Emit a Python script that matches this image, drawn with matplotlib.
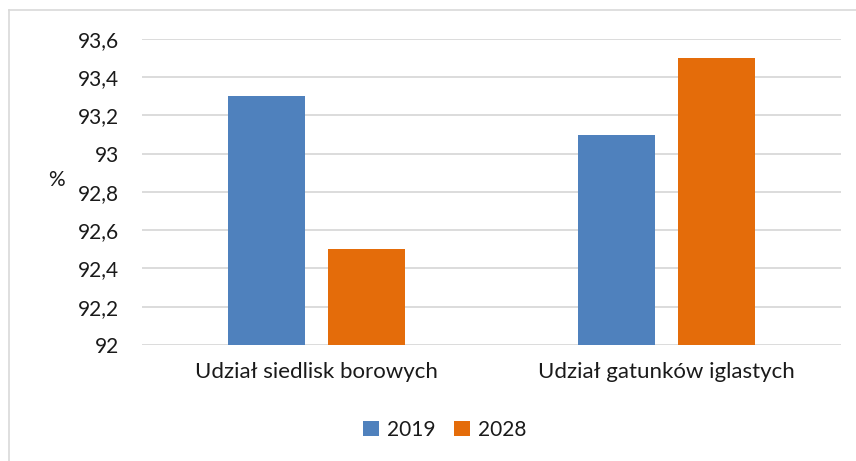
import matplotlib
matplotlib.use("Agg")
import matplotlib.pyplot as plt
import numpy as np
from matplotlib.lines import Line2D
from matplotlib.patches import Patch

categories = ["Udział siedlisk borowych", "Udział gatunków iglastych"]
series_names = ["2019", "2028"]
values_2019 = [93.3, 93.1]
values_2028 = [92.5, 93.5]
y_ticks = [92.0, 92.2, 92.4, 92.6, 92.8, 93.0, 93.2, 93.4, 93.6]
y_tick_labels = ["92", "92,2", "92,4", "92,6", "92,8", "93", "93,2", "93,4", "93,6"]

colors = ["#4F81BD", "#E46C0A"]
grid_color = "#D9D9D9"
text_color = "#1A1A1A"

plt.rcParams["font.family"] = ["Lato", "DejaVu Sans"]

W, H = 856, 461
fig = plt.figure(figsize=(W / 100, H / 100), dpi=100)

# plot area in pixel coordinates
x0, x1 = 142, 841
y_top, y_bot = 39, 345
ax = fig.add_axes([x0 / W, 1 - y_bot / H, (x1 - x0) / W, (y_bot - y_top) / H])

x = np.arange(len(categories))
bw = 0.22
off = 0.143
ax.bar(x - off, values_2019, bw, bottom=0, color=colors[0], zorder=3)
ax.bar(x + off, values_2028, bw, bottom=0, color=colors[1], zorder=3)

ax.set_xlim(-0.5, len(categories) - 0.5)
ax.set_ylim(92.0, 93.6)
ax.set_yticks(y_ticks)
ax.set_yticklabels(y_tick_labels)
ax.set_xticks(x)
ax.set_xticklabels(categories)
ax.tick_params(axis="y", length=0, labelsize=15, colors=text_color, pad=16.5)
ax.tick_params(axis="x", length=0, labelsize=16, colors=text_color, pad=12)
ax.yaxis.grid(True, color=grid_color, linewidth=1.3, zorder=0)
for s in ax.spines.values():
    s.set_visible(False)

fig.text(56 / W, 1 - 180 / H, "%", fontsize=15, color=text_color,
         ha="center", va="center")

handles = [Patch(facecolor=c, edgecolor="none") for c in colors]
fig.legend(handles, series_names, loc="center", bbox_to_anchor=(445 / W, 1 - 430 / H),
           ncol=2, frameon=False, fontsize=15, handlelength=0.75, handleheight=0.75,
           handletextpad=0.4, columnspacing=0.9, labelcolor=text_color)

# outer chart frame (left and top edges)
fig.add_artist(Line2D([9 / W, 9 / W], [0, 1 - 10 / H], transform=fig.transFigure,
                      color=grid_color, linewidth=1.2))
fig.add_artist(Line2D([9 / W, 1], [1 - 10 / H, 1 - 10 / H], transform=fig.transFigure,
                      color=grid_color, linewidth=1.2))

fig.savefig("out.png", dpi=100)
